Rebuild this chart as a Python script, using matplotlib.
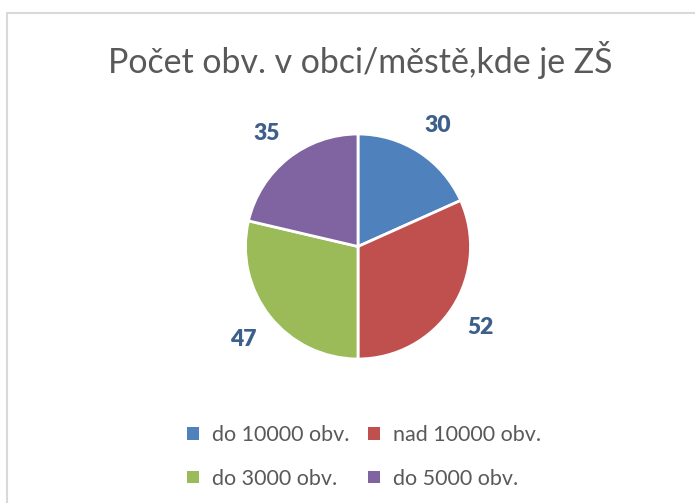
import matplotlib.pyplot as plt
from matplotlib.patches import Rectangle

# data
categories = ["do 10000 obv.", "nad 10000 obv.", "do 3000 obv.", "do 5000 obv."]
values = [30, 52, 47, 35]
colors = ["#4F81BD", "#C0504D", "#9BBB59", "#8064A2"]

W, H = 695, 503
fig = plt.figure(figsize=(W / 100, H / 100), dpi=100)
fig.patch.set_facecolor("white")

# light frame like the Excel chart area (only left/top are visible)
fig.add_artist(Rectangle((7 / W, -0.05), 1.2, 1 - 13 / H + 0.05, transform=fig.transFigure,
                         fill=False, edgecolor="#D9D9D9", linewidth=1.5))

fig.text(360 / W, 1 - 60 / H, "Počet obv. v obci/městě,kde je ZŠ", ha="center", va="center",
         fontsize=24.4, color="#595959", family="Lato")

# pie axes placed in pixels
cx, cy, r = 358, 246.5, 112.5
ax = fig.add_axes([(cx - r) / W, 1 - (cy + r) / H, 2 * r / W, 2 * r / H])
wedges, texts = ax.pie(values, colors=colors, startangle=90, counterclock=False,
                       labels=[str(v) for v in values], labeldistance=1.3,
                       wedgeprops=dict(edgecolor="white", linewidth=2))
for t in texts:
    t.set_ha("center")
    t.set_va("center_baseline")
    t.set_fontsize(16.5)
    t.set_fontweight("heavy")
    t.set_color("#3D5F8C")
    t.set_family("Lato")
ax.set_xlim(-1, 1)
ax.set_ylim(-1, 1)
ax.set_aspect("auto")
ax.axis("off")

order = [0, 2, 1, 3]
leg = fig.legend([wedges[i] for i in order], [categories[i] for i in order],
                 ncol=2, loc="center", bbox_to_anchor=(364 / W, 1 - 457 / H),
                 frameon=False, handlelength=0.55, handleheight=0.55, handletextpad=0.6,
                 columnspacing=0.9, labelspacing=1.08,
                 prop=dict(family="Lato", size=15.5))
for t in leg.get_texts():
    t.set_color("#595959")
for h in leg.legend_handles:
    h.set_edgecolor("none")

fig.savefig("out.png", dpi=100)
